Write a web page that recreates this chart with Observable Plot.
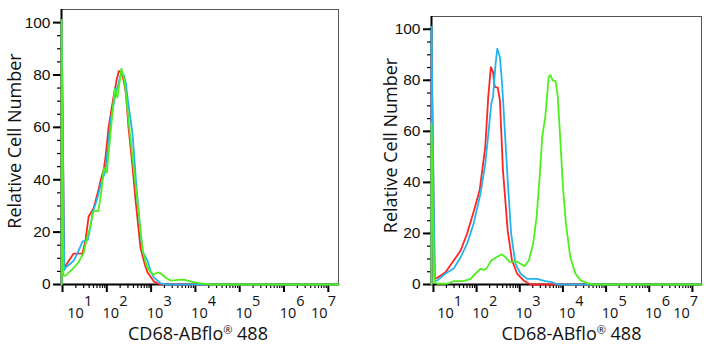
<!DOCTYPE html>
<html><head><meta charset="utf-8">
<script src="https://cdn.jsdelivr.net/npm/d3@7"></script>
<script src="https://cdn.jsdelivr.net/npm/@observablehq/plot@0.6"></script>
<style>
body{margin:0;background:#fff;}
#wrap{position:relative;width:710px;height:350px;overflow:hidden;}
#left,#right{position:absolute;top:0;}
#left{left:0;} #right{left:355px;}
svg{overflow:visible;}
</style></head><body><div id="wrap"><div id="left"></div><div id="right"></div></div>
<script>
// ---- tick labels and titles ----
const decades = [1, 2, 3, 4, 5, 6, 7];
const yTicks = [0, 20, 40, 60, 80, 100];
const xTitle = "CD68-ABflo® 488";
const yTitle = "Relative Cell Number";
const seriesColors = ["#ff2424", "#22b4ee", "#4cf01c"];

// ---- left panel (log10 fluorescence, relative count) ----
const leftRedLog = [0.98, 0.98, 1.04, 1.07, 1.18, 1.25, 1.36, 1.45, 1.52, 1.59, 1.70, 1.81, 1.86, 1.93, 1.97, 2.04, 2.15, 2.22, 2.27, 2.33, 2.38, 2.43, 2.49, 2.58, 2.65, 2.76, 2.86, 2.92, 3.06, 3.17, 3.33, 7.23];
const leftRedCount = [0, 101, 6, 7.2, 10, 11.8, 11.8, 11.8, 17, 26, 29, 36, 39.7, 44, 48.5, 60, 71.4, 78, 81.5, 81, 78, 73, 60, 45, 32, 14, 7.5, 4.6, 1.2, 0.2, 0, 0];
const leftBlueLog = [0.98, 0.98, 1.04, 1.07, 1.18, 1.25, 1.34, 1.45, 1.57, 1.63, 1.68, 1.77, 1.86, 1.97, 2.09, 2.20, 2.27, 2.31, 2.38, 2.43, 2.47, 2.58, 2.67, 2.76, 2.81, 2.92, 2.99, 3.06, 3.22, 3.35, 7.23];
const leftBlueCount = [0, 101, 5.5, 6.5, 8, 9, 12, 16.4, 17, 22, 27.5, 32, 38, 43.5, 63, 73, 77, 80, 80, 77, 71, 57.6, 37, 20, 12.5, 9, 5, 2.7, 0.4, 0, 0];
const leftGreenLog = [0.98, 0.98, 1.02, 1.07, 1.23, 1.36, 1.48, 1.54, 1.61, 1.70, 1.81, 1.88, 1.93, 2.00, 2.09, 2.18, 2.24, 2.33, 2.40, 2.49, 2.58, 2.67, 2.81, 2.90, 2.99, 3.06, 3.15, 3.22, 3.31, 3.44, 3.62, 3.74, 3.90, 4.12, 4.35, 7.23];
const leftGreenCount = [0, 101, 3.4, 3.4, 6, 8.4, 12.2, 17, 21, 28, 28, 36, 44.6, 42.7, 58.8, 74.8, 71.4, 82.4, 78, 62.6, 48.5, 34.7, 13, 7, 4.6, 3.8, 4.6, 4.2, 2.8, 1.5, 1.8, 1.9, 1.1, 0.4, 0, 0];

// ---- right panel ----
const rightRedLog = [0.955, 0.955, 1.03, 1.09, 1.28, 1.47, 1.63, 1.78, 1.93, 2.07, 2.20, 2.27, 2.33, 2.38, 2.42, 2.49, 2.54, 2.61, 2.72, 2.82, 2.94, 3.09, 3.25, 7.21];
const rightRedCount = [0, 90, 2.5, 2.6, 4.8, 9.4, 13.3, 20, 28.4, 36.9, 53.8, 73.5, 85.2, 83.3, 77.4, 77.1, 72.2, 44.7, 21.2, 9.4, 4.2, 1.6, 0, 0];
const rightBlueLog = [0.955, 0.955, 1.03, 1.09, 1.28, 1.47, 1.63, 1.78, 1.93, 2.09, 2.20, 2.28, 2.34, 2.38, 2.44, 2.48, 2.54, 2.59, 2.64, 2.72, 2.80, 2.90, 3.02, 3.17, 3.40, 3.59, 3.75, 3.87, 7.21];
const rightBlueCount = [0, 101, 1.5, 1.6, 4.3, 6.3, 10.7, 16, 23.8, 35.6, 47.3, 60.4, 70.9, 73.5, 86.5, 92.4, 89.1, 78.7, 64.3, 40.8, 19.9, 8.1, 4.2, 2.2, 2.2, 1.3, 0.9, 0, 0];
const rightGreenLog = [0.955, 0.955, 1.02, 1.09, 1.32, 1.47, 1.70, 1.86, 1.97, 2.09, 2.17, 2.24, 2.34, 2.46, 2.59, 2.67, 2.77, 2.90, 3.02, 3.11, 3.21, 3.31, 3.39, 3.46, 3.52, 3.59, 3.67, 3.71, 3.76, 3.83, 3.88, 3.94, 4.00, 4.07, 4.17, 4.29, 4.41, 4.56, 4.71, 7.21];
const rightGreenCount = [0, 63, 1, 0.3, 0.3, 1.3, 1.3, 2.2, 4.2, 6.1, 5.7, 6.5, 9.4, 10.7, 11.8, 10.7, 8.8, 9.2, 8.1, 7.2, 9.4, 16, 26.4, 42, 57.8, 65.6, 81.3, 82, 80, 79.7, 73.5, 56.5, 38.2, 23.8, 10.7, 4.2, 1.6, 0.5, 0, 0];

function toRows(logs, counts) { return logs.map((e, i) => ({x: 10 ** e, y: counts[i]})); }

function panel(cfg) {
  const [e0, e1] = cfg.expDomain;
  const minorX = [];
  for (let k = 0; k <= 7; k++) for (let m = 2; m <= 9; m++) {
    const v = m * 10 ** k; if (v > 10 ** e0 && v < 10 ** e1) minorX.push(v);
  }
  const labelOffsets = decades.map((d, i) => i === 0 ? cfg.firstDx : i === decades.length - 1 ? cfg.lastDx : 4);
  const labelMarks = decades.flatMap((d, i) => [
    Plot.text([d], {x: v => 10 ** v, frameAnchor: "bottom", text: () => "10", dx: labelOffsets[i], dy: 29, fontSize: 14.5, fontFamily: "Open Sans", lineAnchor: "middle", fill: "#111"}),
    Plot.text([d], {x: v => 10 ** v, frameAnchor: "bottom", text: v => String(v), dx: labelOffsets[i] + 12.5, dy: 17, fontSize: 14.5, fontFamily: "Open Sans", lineAnchor: "middle", fill: "#111"})
  ]);
  const series = cfg.series;
  return Plot.plot({
    width: 355, height: 350,
    marginLeft: cfg.marginLeft, marginRight: cfg.marginRight, marginTop: cfg.marginTop, marginBottom: 66,
    x: {type: "log", domain: [10 ** e0, 10 ** e1], axis: null},
    y: {domain: [0, 105], axis: null},
    style: {fontFamily: "Liberation Sans", background: "white"},
    marks: [
      Plot.frame({stroke: "#555", strokeWidth: 1}),
      Plot.axisY(d3.range(0, 101, 5), {tickSize: 4, tickFormat: () => "", label: null, strokeWidth: 1.2}),
      Plot.axisY(yTicks, {tickSize: 8, tickPadding: 3, strokeWidth: 2, fontSize: 15.5, fontFamily: "Liberation Sans", label: null, fill: "#111"}),
      Plot.axisX(minorX, {tickSize: 4, tickFormat: () => "", label: null, strokeWidth: 1.2}),
      Plot.axisX(decades.map(d => 10 ** d), {tickSize: 8, tickFormat: () => "", label: null, strokeWidth: 2}),
      ...labelMarks,
      Plot.ruleX([10 ** e0], {stroke: "#000", strokeWidth: 2}),
      Plot.ruleY([0], {stroke: "#000", strokeWidth: 2}),
      ...series.map((s, i) => Plot.line(s, {x: "x", y: "y", stroke: seriesColors[i], strokeWidth: 1.8, curve: "linear"})),
      Plot.text([yTitle], {frameAnchor: "left", rotate: -90, textAnchor: "middle", dx: cfg.yTitleDx, dy: cfg.yTitleDy, fontSize: 18, fontFamily: "Open Sans", fill: "#111", lineAnchor: "middle"}),
      Plot.text([xTitle], {frameAnchor: "bottom", dx: cfg.xTitleDx, dy: 50, fontSize: 18, fontFamily: "Open Sans", fill: "#111", lineAnchor: "middle"})
    ]
  });
}

function fixRegistered(svg) {
  svg.querySelectorAll("text").forEach(t => {
    if (t.textContent === xTitle) {
      const [a, b] = xTitle.split("®");
      t.textContent = "";
      const ns = "http://www.w3.org/2000/svg";
      const t1 = document.createElementNS(ns, "tspan"); t1.textContent = a;
      const t2 = document.createElementNS(ns, "tspan"); t2.textContent = "®"; t2.setAttribute("font-size", "11"); t2.setAttribute("dy", "-6");
      const t3 = document.createElementNS(ns, "tspan"); t3.textContent = b; t3.setAttribute("dy", "6");
      t.append(t1, t2, t3);
    }
  });
  return svg;
}

const leftChart = panel({
  expDomain: [0.977, 7.23], marginLeft: 61, marginRight: 17, marginTop: 9,
  firstDx: 13, lastDx: -9, yTitleDx: -46, yTitleDy: -6, xTitleDx: -2,
  series: [toRows(leftRedLog, leftRedCount), toRows(leftBlueLog, leftBlueCount), toRows(leftGreenLog, leftGreenCount)]
});
const rightChart = panel({
  expDomain: [0.955, 7.21], marginLeft: 76, marginRight: 9, marginTop: 16,
  firstDx: 12, lastDx: -11, yTitleDx: -40, yTitleDy: -5, xTitleDx: 5,
  series: [toRows(rightRedLog, rightRedCount), toRows(rightBlueLog, rightBlueCount), toRows(rightGreenLog, rightGreenCount)]
});
document.getElementById("left").append(fixRegistered(leftChart));
document.getElementById("right").append(fixRegistered(rightChart));
</script></body></html>
